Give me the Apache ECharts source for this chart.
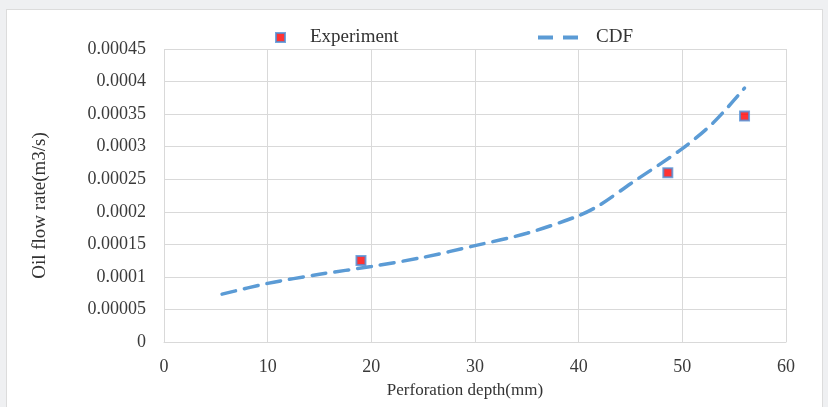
<!DOCTYPE html>
<html><head><meta charset="utf-8">
<script src="https://cdn.jsdelivr.net/npm/echarts@6/dist/echarts.min.js"></script>
<style>
html,body{margin:0;padding:0;background:#eff0f2;width:828px;height:407px;overflow:hidden}
#panel{position:absolute;left:6px;top:9px;width:815px;height:400px;background:#fff;border:1px solid #dcdcdc}
#c{position:absolute;left:0;top:0;width:828px;height:407px}
</style></head><body>
<div id="panel"></div>
<div id="c"></div>
<script>
var expX = [19, 48.6, 56];
var expY = [0.000125, 0.00026, 0.000347];
var cdfX = [5.6, 10, 15, 20, 25, 30, 35, 40, 42, 45, 50, 53, 56];
var cdfY = [0.0000735, 0.00009, 0.000104, 0.000116, 0.00013, 0.000148, 0.000167, 0.000194, 0.00021, 0.000243, 0.000297, 0.000337, 0.00039];
var xTicks = [0, 10, 20, 30, 40, 50, 60];
var yTickLabels = ['0','0.00005','0.0001','0.00015','0.0002','0.00025','0.0003','0.00035','0.0004','0.00045'];

var font = '"Liberation Serif", "Times New Roman", serif';
var chart = echarts.init(document.getElementById('c'), null, {renderer:'canvas'});
chart.setOption({
  backgroundColor: 'transparent',
  animation: false,
  textStyle: {fontFamily: font},
  legend: [
    {
      top: 28, left: 275, padding: 0, itemWidth: 9, itemHeight: 9,
      textStyle: {fontFamily: font, fontSize: 19, color: '#333', padding: [0,0,0,20]},
      data: [{name: 'Experiment', icon: 'rect', itemStyle: {color:'#ff0000', borderColor:'#4f8fd6', borderWidth:2}}]
    },
    {
      top: 28, left: 538, padding: 0, itemWidth: 40, itemHeight: 4,
      textStyle: {fontFamily: font, fontSize: 19, color: '#333', padding: [0,0,0,13]},
      data: [{name: 'CDF', icon: 'path://M0,0H15V4H0Z M25,0H40V4H25Z', itemStyle: {color:'#5b9bd5', borderWidth:0}}]
    }
  ],
  grid: {left: 164, right: 42, top: 49, bottom: 65},
  xAxis: {
    type: 'value', min: 0, max: 60, interval: 10,
    name: 'Perforation depth(mm)', nameLocation: 'middle', nameGap: 40,
    nameTextStyle: {fontFamily: font, fontSize: 17, color: '#333', padding: [0, 20, 0, 0]},
    axisLine: {show: true, lineStyle: {color: '#d9d9d9', width: 1}},
    axisTick: {show: false},
    axisLabel: {fontFamily: font, fontSize: 18, color: '#3a3a3a', margin: 16,
      formatter: function(v){ return xTicks.indexOf(v) >= 0 ? String(v) : ''; }},
    splitLine: {show: true, lineStyle: {color: '#d9d9d9', width: 1}}
  },
  yAxis: {
    type: 'value', min: 0, max: 0.00045, interval: 0.00005,
    name: 'Oil flow rate(m3/s)', nameLocation: 'middle', nameGap: 114, nameRotate: 90,
    nameTextStyle: {fontFamily: font, fontSize: 19, color: '#333', padding: [0, 20, 0, 0]},
    axisLine: {show: false},
    axisTick: {show: false},
    axisLabel: {fontFamily: font, fontSize: 18, color: '#3a3a3a', margin: 18,
      formatter: function(v){ var i = Math.round(v/0.00005); return yTickLabels[i]; }},
    splitLine: {show: true, lineStyle: {color: '#d9d9d9', width: 1}}
  },
  series: [
    {
      name: 'Experiment', type: 'scatter', symbol: 'rect', symbolSize: 9,
      itemStyle: {color: '#ff0000', borderColor: '#4f8fd6', borderWidth: 2},
      data: expX.map(function(x,i){ return [x, expY[i]]; }),
      z: 3
    },
    {
      name: 'CDF', type: 'line', smooth: 0.3, showSymbol: false, symbol: 'none',
      lineStyle: {color: '#5b9bd5', width: 3.5, type: [14, 9], cap: 'round'},
      itemStyle: {color: '#5b9bd5'},
      data: cdfX.map(function(x,i){ return [x, cdfY[i]]; }),
      z: 2
    }
  ]
});
</script>
</body></html>
